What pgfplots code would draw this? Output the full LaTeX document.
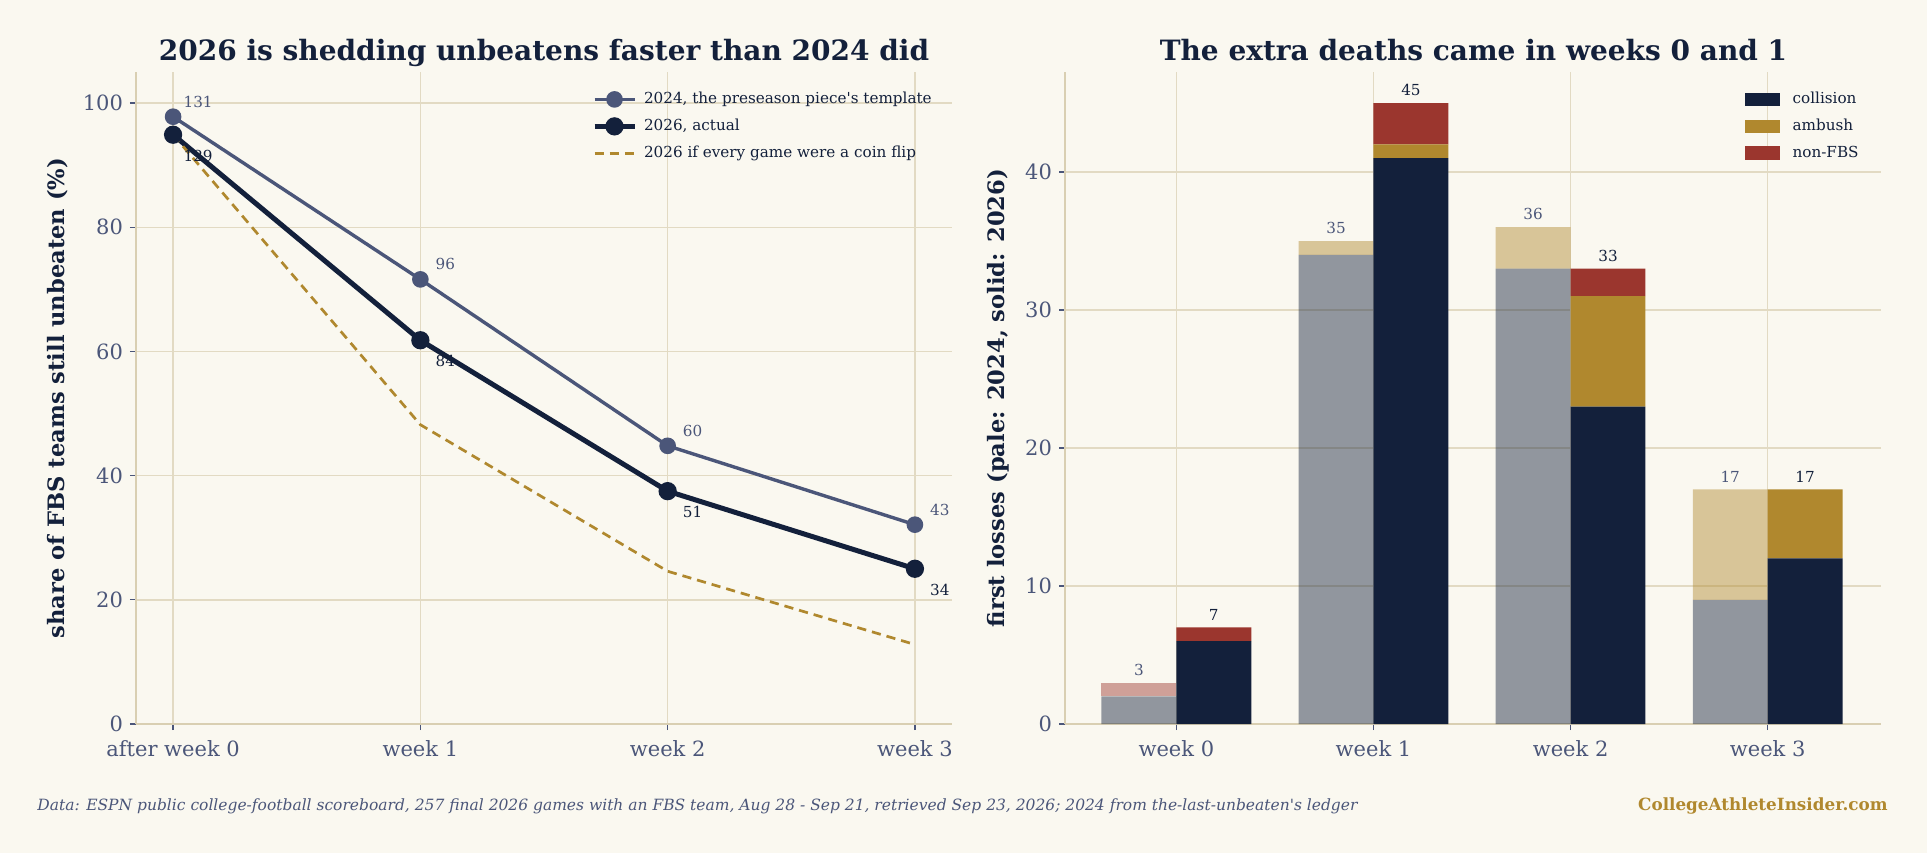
\documentclass[border=0pt]{standalone}
\usepackage{fontspec}
\setmainfont{DejaVu Serif}
\usepackage{pgfplots}
\pgfplotsset{compat=1.18}
\usepackage{pgfplotstable}
\definecolor{bg}{HTML}{FAF8F0}
\definecolor{navy}{HTML}{13203B}
\definecolor{slate}{HTML}{4B5679}
\definecolor{gold}{HTML}{B0882E}
\definecolor{rust}{HTML}{9B362E}
\definecolor{gridc}{HTML}{E2DAC3}
\definecolor{spine}{HTML}{D9CFB2}

\pgfplotstableread{
x p24 l24 p26 l26 coin
0 97.8 131 94.9 129 94.9
1 71.6 96 61.8 84 48.2
2 44.8 60 37.5 51 24.6
3 32.1 43 25.0 34 12.8
}\survival

\pgfplotstableread{
x col amb non tot
0 2 0 1 3
1 34 1 0 35
2 33 3 0 36
3 9 8 0 17
}\lossA

\pgfplotstableread{
x col amb non tot
0 6 0 1 7
1 41 1 3 45
2 23 8 2 33
3 12 5 0 17
}\lossB

\pgfplotsset{
  base/.style={
    scale only axis, width=408pt, height=326pt,
    axis x line*=bottom, axis y line*=left,
    axis line style={draw=spine, line width=0.9pt, -},
    grid=major, major grid style={draw=gridc, line width=0.7pt},
    tick style={draw=slate, line width=0.6pt}, major tick length=3pt,
    tick align=outside,
    tick label style={font=\fontsize{10.5}{12}\selectfont, text=slate},
    xticklabel style={yshift=-1.5pt},
    /pgf/number format/assume math mode=true,
    ymin=0, xtick={0,1,2,3}, clip=false,
    ylabel style={font=\bfseries\fontsize{11.3}{13}\selectfont, text=navy, anchor=center},
  }
}

\begin{document}
\begin{tikzpicture}
\fill[bg] (0,0) rectangle (963.5pt,426.5pt);

% ---------------- left: survival lines
\begin{axis}[base, at={(68pt,64.5pt)}, anchor=south west,
  xmin=-0.15, xmax=3.15, ymax=105,
  ytick={0,20,40,60,80,100},
  xticklabels={after week 0, week 1, week 2, week 3},
  ylabel={share of FBS teams still unbeaten (\%)},
  ylabel style={at={(axis description cs:-0.0956,0.5)}},
  legend style={at={(axis description cs:0.551,0.982)}, anchor=north west,
    draw=none, fill=none, font=\fontsize{7.6}{9}\selectfont, text=navy, row sep=2.2pt,
    /tikz/every odd column/.append style={column sep=1.5pt}},
  legend cell align=left,
  legend image code/.code={\draw[mark repeat=2,mark phase=2,#1] plot coordinates {(0pt,0pt) (10pt,0pt) (20pt,0pt)};},
]
\addplot[color=slate, line width=1.7pt, mark=*, mark size=3.3pt,
  nodes near coords, point meta=explicit symbolic,
  every node near coord/.style={anchor=center, xshift=12.5pt, yshift=7.6pt,
    font=\fontsize{7.6}{9}\selectfont, text=slate}]
  table[x=x, y=p24, meta=l24]{\survival};
\addlegendentry{2024, the preseason piece\textquotesingle s template}
\addplot[color=navy, line width=2.5pt, mark=*, mark size=3.3pt,
  nodes near coords, point meta=explicit symbolic,
  every node near coord/.style={anchor=center, xshift=12.5pt, yshift=-10.4pt,
    font=\fontsize{7.6}{9}\selectfont, text=navy}]
  table[x=x, y=p26, meta=l26]{\survival};
\addlegendentry{2026, actual}
\addplot[color=gold, line width=1.35pt, dash pattern=on 4.6pt off 3pt, mark=none]
  table[x=x, y=coin]{\survival};
\addlegendentry{2026 if every game were a coin flip}
\end{axis}

% ---------------- right: pale 2024 bars
\begin{axis}[base, at={(532.5pt,64.5pt)}, anchor=south west,
  xmin=-0.565, xmax=3.575, ymax=47.25,
  ytick={0,10,20,30,40},
  xticklabels={week 0, week 1, week 2, week 3},
  ylabel={first losses (pale: 2024, solid: 2026)},
  ylabel style={at={(axis description cs:-0.082,0.5)}},
  ybar stacked, bar width=0.38, bar shift=-0.19,
]
\addplot[fill=navy, fill opacity=0.45, draw=none] table[x=x, y=col]{\lossA};
\addplot[fill=gold, fill opacity=0.45, draw=none] table[x=x, y=amb]{\lossA};
\addplot[fill=rust, fill opacity=0.45, draw=none] table[x=x, y=non]{\lossA};
\end{axis}

% ---------------- right: solid 2026 bars
\begin{axis}[scale only axis, width=408pt, height=326pt,
  at={(532.5pt,64.5pt)}, anchor=south west, hide axis, clip=false,
  xmin=-0.565, xmax=3.575, ymin=0, ymax=47.25,
  ybar stacked, bar width=0.38, bar shift=0.19,
  legend style={at={(axis description cs:0.825,0.982)}, anchor=north west,
    draw=none, fill=none, font=\fontsize{7.6}{9}\selectfont, text=navy, row sep=2.2pt,
    /tikz/every odd column/.append style={column sep=4.5pt}},
  legend cell align=left,
  legend image code/.code={\fill[#1] (0pt,-3.4pt) rectangle (17.5pt,3.4pt);},
]
\addplot[fill=navy, draw=none] table[x=x, y=col]{\lossB};
\addlegendentry{collision}
\addplot[fill=gold, draw=none] table[x=x, y=amb]{\lossB};
\addlegendentry{ambush}
\addplot[fill=rust, draw=none] table[x=x, y=non]{\lossB};
\addlegendentry{non-FBS}
\end{axis}

% ---------------- right: total labels
\begin{axis}[scale only axis, width=408pt, height=326pt,
  at={(532.5pt,64.5pt)}, anchor=south west, hide axis, clip=false,
  xmin=-0.565, xmax=3.575, ymin=0, ymax=47.25]
\addplot[draw=none, mark=none, nodes near coords, point meta=explicit symbolic,
  every node near coord/.style={anchor=base, xshift=-18.72pt, yshift=3.7pt,
    font=\fontsize{7.6}{9}\selectfont, text=slate}]
  table[x=x, y=tot, meta=tot]{\lossA};
\addplot[draw=none, mark=none, nodes near coords, point meta=explicit symbolic,
  every node near coord/.style={anchor=base, xshift=18.72pt, yshift=3.7pt,
    font=\fontsize{7.6}{9}\selectfont, text=navy}]
  table[x=x, y=tot, meta=tot]{\lossB};
\end{axis}

% titles and footer
\node[anchor=base, font=\bfseries\fontsize{14}{16}\selectfont, text=navy] at (272pt,396pt)
  {2026 is shedding unbeatens faster than 2024 did};
\node[anchor=base, font=\bfseries\fontsize{14}{16}\selectfont, text=navy] at (736.75pt,396pt)
  {The extra deaths came in weeks 0 and 1};
\node[anchor=base west, font=\itshape\fontsize{7.75}{10}\selectfont, text=slate, inner sep=0pt] at (18.5pt,21.2pt)
  {Data: ESPN public college-football scoreboard, 257 final 2026 games with an FBS team, Aug 28 - Sep 21, retrieved Sep 23, 2026; 2024 from the-last-unbeaten\textquotesingle s ledger};
\node[anchor=base east, font=\bfseries\fontsize{8.4}{10}\selectfont, text=gold, inner sep=0pt] at (944pt,21.2pt)
  {CollegeAthleteInsider.com};

\pgfresetboundingbox
\path (0,0) rectangle (963.5pt,426.5pt);
\end{tikzpicture}
\end{document}
